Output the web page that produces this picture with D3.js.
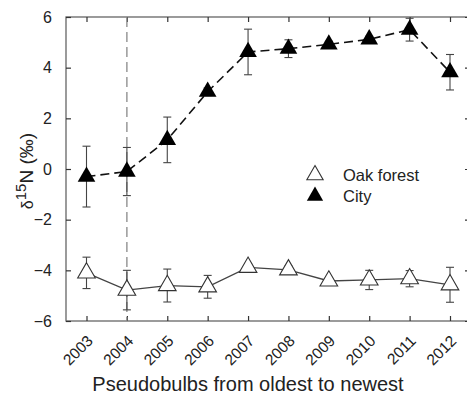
<!DOCTYPE html>
<html>
<head>
<meta charset="utf-8">
<script src="https://cdn.jsdelivr.net/npm/d3@7/dist/d3.min.js"></script>
<style>
  html, body { margin: 0; padding: 0; background: #fff; }
  svg { display: block; font-family: "Liberation Sans", Arial, sans-serif; }
</style>
</head>
<body>
<svg id="chart" width="467" height="396"></svg>
<script>
// Pseudobulb cohorts (years)
const years = [2003, 2004, 2005, 2006, 2007, 2008, 2009, 2010, 2011, 2012];
const yTicks = [-6, -4, -2, 0, 2, 4, 6];

// δ15N means and error half-widths
const oakMean = [-4.1, -4.78, -4.6, -4.65, -3.88, -3.98, -4.42, -4.38, -4.33, -4.57];
const oakErr  = [0.62, 0.78, 0.65, 0.45, 0.15, 0.15, 0.12, 0.38, 0.32, 0.69];
const cityMean = [-0.3, -0.1, 1.15, 3.05, 4.62, 4.75, 4.92, 5.12, 5.5, 3.82];
const cityErr  = [1.2, 0.95, 0.9, 0.15, 0.9, 0.35, 0.12, 0.12, 0.45, 0.7];

const seriesNames = ["Oak forest", "City"];
const markerLine = 2004;

const svg = d3.select("#chart");
const margin = { left: 66, top: 17 };
const plotRight = 470, plotBottom = 321;

const x = d3.scalePoint().domain(years).range([86.5, 450]).padding(0);
const y = d3.scaleLinear().domain([-6, 6]).range([plotBottom, margin.top]);

const axisColor = "#666";
const fontFamily = "'Liberation Sans', Arial, sans-serif";

// frame
svg.append("rect")
  .attr("x", margin.left).attr("y", margin.top)
  .attr("width", plotRight - margin.left).attr("height", plotBottom - margin.top)
  .attr("fill", "none").attr("stroke", axisColor).attr("stroke-width", 1.3);

// axes with inward ticks
const styleAxis = (g, size) => {
  g.select(".domain").remove();
  g.selectAll(".tick line").attr("stroke", "#333").attr("stroke-width", 1.2);
  g.selectAll(".tick text").attr("fill", "#222").attr("font-size", size)
    .attr("font-family", fontFamily);
};

svg.append("g").attr("transform", `translate(${margin.left},0)`)
  .call(d3.axisLeft(y).tickValues(yTicks).tickSize(-5).tickPadding(14)
    .tickFormat(d => d < 0 ? "\u2212" + Math.abs(d) : d))
  .call(styleAxis, 16);

svg.append("g").attr("transform", `translate(${plotRight},0)`)
  .call(d3.axisRight(y).tickValues(yTicks).tickSize(-5).tickFormat(""))
  .call(styleAxis, 16);

svg.append("g").attr("transform", `translate(0,${margin.top})`)
  .call(d3.axisTop(x).tickSize(-5).tickFormat(""))
  .call(styleAxis, 16);

const xg = svg.append("g").attr("transform", `translate(0,${plotBottom})`)
  .call(d3.axisBottom(x).tickSize(-5).tickFormat(d => d))
  .call(styleAxis, 15.5);
xg.selectAll(".tick text")
  .attr("text-anchor", "end")
  .attr("x", 0).attr("y", 0).attr("dy", "0.35em")
  .attr("transform", "translate(3,17) rotate(-45)");

// vertical dashed reference line
svg.append("line")
  .attr("x1", x(markerLine)).attr("x2", x(markerLine))
  .attr("y1", margin.top).attr("y2", plotBottom)
  .attr("stroke", "#888").attr("stroke-width", 1.3).attr("stroke-dasharray", "10,5");

const line = d3.line().x((d, i) => x(years[i])).y(d => y(d));

// connecting lines
svg.append("path").datum(oakMean).attr("d", line)
  .attr("fill", "none").attr("stroke", "#444").attr("stroke-width", 1.3);
svg.append("path").datum(cityMean).attr("d", line)
  .attr("fill", "none").attr("stroke", "#111").attr("stroke-width", 1.6)
  .attr("stroke-dasharray", "9,5");

// error bars
function errorBars(means, errs) {
  const g = svg.append("g").attr("stroke", "#444").attr("stroke-width", 1.1);
  years.forEach((yr, i) => {
    const cx = x(yr), top = y(means[i] + errs[i]), bot = y(means[i] - errs[i]);
    g.append("line").attr("x1", cx).attr("x2", cx).attr("y1", top).attr("y2", bot);
    g.append("line").attr("x1", cx - 4).attr("x2", cx + 4).attr("y1", top).attr("y2", top);
    g.append("line").attr("x1", cx - 4).attr("x2", cx + 4).attr("y1", bot).attr("y2", bot);
  });
}
errorBars(oakMean, oakErr);
errorBars(cityMean, cityErr);

// markers
const tri = d3.symbol().type(d3.symbolTriangle).size(135);
svg.append("g").selectAll("path").data(oakMean).join("path")
  .attr("d", tri)
  .attr("transform", (d, i) => `translate(${x(years[i])},${y(d)})`)
  .attr("fill", "#fff").attr("stroke", "#333").attr("stroke-width", 1.1);
svg.append("g").selectAll("path").data(cityMean).join("path")
  .attr("d", tri)
  .attr("transform", (d, i) => `translate(${x(years[i])},${y(d)})`)
  .attr("fill", "#000");

// legend
const legend = svg.append("g").attr("transform", "translate(315,175)");
seriesNames.forEach((name, i) => {
  const row = legend.append("g").attr("transform", `translate(0,${i * 21})`);
  row.append("path").attr("d", d3.symbol().type(d3.symbolTriangle).size(115))
    .attr("fill", i === 0 ? "#fff" : "#000")
    .attr("stroke", i === 0 ? "#333" : "none").attr("stroke-width", 1.1);
  row.append("text").attr("x", 28).attr("y", 5.5)
    .attr("font-size", 16.5).attr("fill", "#222").text(name);
});

// axis titles
svg.append("text")
  .attr("x", 248).attr("y", 391)
  .attr("text-anchor", "middle").attr("font-size", 20).attr("fill", "#222")
  .text("Pseudobulbs from oldest to newest");

const yt = svg.append("text")
  .attr("transform", "translate(33,171) rotate(-90)")
  .attr("text-anchor", "middle").attr("fill", "#222").attr("font-size", 19);
yt.append("tspan").attr("font-size", 16).text("\u03b4");
yt.append("tspan").attr("font-size", 15).attr("dy", -7).text("15");
yt.append("tspan").attr("dy", 7).text("N (\u2030)");
</script>
</body>
</html>
